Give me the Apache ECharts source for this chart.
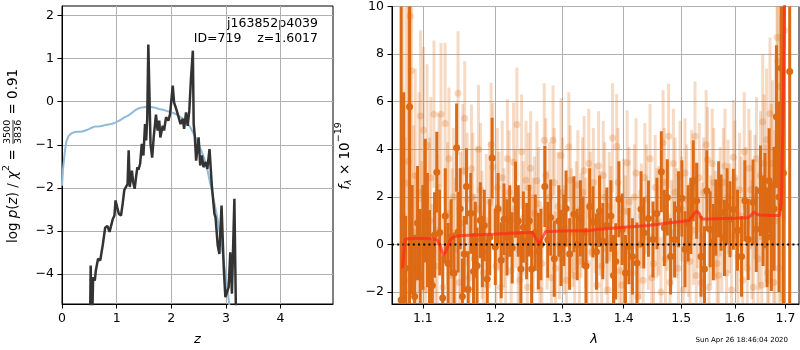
<!DOCTYPE html>
<html>
<head>
<meta charset="utf-8">
<script src="https://cdn.jsdelivr.net/npm/echarts@6/dist/echarts.min.js"></script>
<style>
  html, body { margin: 0; padding: 0; background: #ffffff; }
  #chart { width: 800px; height: 350px; }
</style>
</head>
<body>
<div id="chart"></div>
<script>
// ---- redshift probability panel ----
const pzGrid = [
  0.510, 0.525, 0.545, 0.570, 0.600, 0.620, 0.660, 0.700, 0.750, 0.790,
  0.830, 0.870, 0.930, 0.960, 0.980, 1.010, 1.040, 1.080, 1.110, 1.140,
  1.170, 1.200, 1.220, 1.240, 1.260, 1.280, 1.300, 1.330, 1.360, 1.380,
  1.400, 1.430, 1.460, 1.490, 1.520, 1.540, 1.560, 1.580, 1.600, 1.620,
  1.650, 1.680, 1.720, 1.750, 1.780, 1.800, 1.843, 1.868, 1.905, 1.947,
  1.978, 2.027, 2.051, 2.100, 2.130, 2.170, 2.210, 2.235, 2.270, 2.300,
  2.330, 2.360, 2.395, 2.410, 2.430, 2.455, 2.500, 2.530, 2.560, 2.590,
  2.630, 2.660, 2.700, 2.740, 2.790, 2.810, 2.850, 2.880, 2.920, 2.960,
  2.990, 3.020, 3.050, 3.080, 3.110, 3.155, 3.190
];
const pzLog = [
  -5.5, -3.80, -5.5, -4.07, -4.15, -3.91, -3.64, -3.68, -3.29, -2.92,
  -2.88, -3.02, -2.72, -2.64, -2.29, -2.45, -2.60, -2.64, -2.37, -2.05,
  -2.02, -1.91, -1.13, -1.98, -1.78, -1.60, -1.85, -2.02, -1.70, -1.52,
  -1.58, -1.44, -0.98, -1.25, -0.52, -0.90, -0.40, 1.32, 0.20, -0.98,
  -1.30, -0.80, -0.30, -0.67, -0.44, -0.83, -0.56, -0.67, -0.36, -0.44,
  -0.29, 0.37, -0.02, -0.21, -0.25, -0.52, -0.40, -0.63, -0.25, -0.56,
  -0.21, 0.52, 1.18, -0.52, -0.79, -1.37, -0.83, -1.48, -1.25, -1.52,
  -1.40, -1.56, -1.10, -1.91, -2.60, -2.68, -3.33, -3.53, -2.41, -3.84,
  -4.53, -4.53, -4.30, -3.49, -4.45, -2.25, -5.5
];
const priorZ = [
  0.00, 0.02, 0.05, 0.08, 0.12, 0.16,
  0.20, 0.25, 0.30, 0.35, 0.40, 0.45, 0.50, 0.55, 0.60, 0.65,
  0.70, 0.75, 0.80, 0.85, 0.90, 0.95, 1.00, 1.05, 1.10, 1.15,
  1.20, 1.25, 1.30, 1.35, 1.40, 1.45, 1.50, 1.55, 1.60, 1.65,
  1.70, 1.75, 1.80, 1.85, 1.90, 1.95, 2.00, 2.05, 2.10, 2.15,
  2.20, 2.25, 2.30, 2.35, 2.40, 2.45, 2.50, 2.55, 2.60, 2.65,
  2.70, 2.75, 2.80, 2.85, 2.90, 2.95, 3.00, 3.05, 3.10
];
const priorLog = [
  -1.95, -1.55, -1.18, -0.92, -0.80, -0.75,
  -0.72, -0.70, -0.70, -0.70, -0.68, -0.66, -0.63, -0.60, -0.58, -0.58,
  -0.57, -0.56, -0.54, -0.53, -0.52, -0.50, -0.47, -0.44, -0.40, -0.36,
  -0.33, -0.29, -0.24, -0.19, -0.16, -0.14, -0.13, -0.12, -0.12, -0.13,
  -0.14, -0.16, -0.18, -0.19, -0.21, -0.23, -0.25, -0.27, -0.30, -0.34,
  -0.38, -0.44, -0.51, -0.60, -0.72, -0.85, -0.99, -1.14, -1.31, -1.50,
  -1.82, -2.12, -2.42, -2.74, -3.15, -3.60, -4.10, -4.58, -5.10
];
const zTicks = [0, 1, 2, 3, 4];
const logpTicks = [-4, -3, -2, -1, 0, 1, 2];

// ---- spectrum panel: binned points ----
const specWave = [
  1.0717, 1.0750, 1.0775, 1.0826, 1.0860, 1.0892, 1.0930, 1.0965, 1.1000, 1.1032,
  1.1060, 1.1088, 1.1126, 1.1155, 1.1186, 1.1225, 1.1265, 1.1300, 1.1339, 1.1380,
  1.1420, 1.1455, 1.1475, 1.1505, 1.1535, 1.1560, 1.1591, 1.1615, 1.1651, 1.1689,
  1.1715, 1.1740, 1.1786, 1.1815, 1.1842, 1.1884, 1.1920, 1.1954, 1.2000, 1.2040,
  1.2085, 1.2126, 1.2170, 1.2210, 1.2246, 1.2295, 1.2336, 1.2375, 1.2411, 1.2460,
  1.2500, 1.2535, 1.2590, 1.2636, 1.2675, 1.2735, 1.2780, 1.2825, 1.2880, 1.2951,
  1.2985, 1.3030, 1.3064, 1.3120, 1.3188, 1.3240, 1.3290, 1.3332, 1.3380, 1.3440,
  1.3493, 1.3550, 1.3600, 1.3653, 1.3720, 1.3787, 1.3830, 1.3867, 1.3920, 1.3974,
  1.4030, 1.4088, 1.4148, 1.4224, 1.4295, 1.4342, 1.4423, 1.4501, 1.4570, 1.4647,
  1.4700, 1.4753, 1.4811, 1.4882, 1.4952, 1.5013, 1.5070, 1.5126, 1.5175, 1.5220,
  1.5281, 1.5362, 1.5426, 1.5469, 1.5531, 1.5590, 1.5638, 1.5690, 1.5737, 1.5801,
  1.5850, 1.5906, 1.5970, 1.6050, 1.6128, 1.6192, 1.6257, 1.6352, 1.6416, 1.6498,
  1.6550, 1.6588, 1.6630, 1.6671, 1.6716, 1.6770, 1.6818, 1.6870, 1.6914, 1.6960,
  1.7088
];
const specFlux = [
  -2.33, -3.2, -1.0, 5.79, 0.2, -2.19, 0.9, -1.31, 0.3, 1.84,
  0.6, -0.55, -1.72, 0.4, 3.04, 0.5, -2.25, 1.2, -0.8, 0.3,
  -1.2, 4.07, 0.52, 1.5, -2.19, -0.4, 2.44, -1.88, 1.31, -1.13,
  0.2, -0.89, 1.02, -0.3, 0.80, -1.45, 0.3, 3.63, -0.1, 1.5,
  -0.66, 1.06, 0.3, 0.99, -0.14, 1.88, 0.99, -1.03, 0.73, 0.14,
  1.0, -1.03, 0.5, -0.28, 0.0, 2.44, 0.2, 1.13, -0.6, 0.99,
  -0.14, 0.6, 1.51, -0.4, 1.27, 0.0, 1.1, 0.52, -0.9, 1.6,
  0.95, -0.3, 1.4, 0.14, 0.8, 1.2, -1.3, -0.71, 1.9, 0.64,
  -1.2, -0.07, -0.50, -0.78, 1.48, 0.49, 1.09, 0.21, 1.3, 3.06,
  0.7, 1.98, -0.50, 0.21, 1.48, 1.94, -0.2, 0.89, 1.2, 2.68,
  1.84, -0.50, -1.03, 2.26, 0.64, 0.1, 1.13, 1.9, 1.34, 0.28,
  1.6, 1.06, 1.48, 0.6, -0.50, 1.84, 0.21, 1.77, 0.64, 2.26,
  1.0, 1.84, 0.3, 2.68, 0.35, 1.5, 5.37, 2.0, 7.42, 3.0,
  7.27
];
const specErr = [
  14, 9.6, 2.2, 8.5, 2.3, 2.6, 2.4, 2.8, 2.2, 2.6,
  2.4, 2.0, 1.9, 1.8, 1.7, 1.8, 1.8, 2.0, 1.7, 1.6,
  1.7, 1.85, 1.7, 1.7, 1.6, 1.6, 1.6, 1.6, 1.7, 1.6,
  1.6, 1.6, 1.6, 1.5, 1.5, 1.7, 1.6, 1.7, 1.6, 1.5,
  1.6, 1.5, 1.6, 1.5, 1.5, 1.6, 1.5, 1.6, 1.5, 1.6,
  1.5, 1.6, 1.6, 1.6, 1.5, 1.7, 1.6, 1.6, 1.6, 1.5,
  1.6, 1.5, 1.6, 1.5, 1.6, 1.5, 1.6, 1.5, 1.6, 1.6,
  1.5, 1.6, 1.5, 1.6, 1.6, 1.5, 1.7, 1.6, 1.6, 1.5,
  1.6, 1.6, 1.6, 1.7, 1.6, 1.5, 1.6, 1.6, 1.5, 1.7,
  1.6, 1.6, 1.6, 1.6, 1.6, 1.6, 1.6, 1.6, 1.6, 1.7,
  1.6, 1.7, 1.8, 1.7, 1.6, 1.6, 1.6, 1.6, 1.6, 1.6,
  1.6, 1.6, 1.7, 1.7, 1.7, 1.7, 1.7, 1.8, 1.8, 1.9,
  1.9, 2.0, 2.1, 2.2, 2.3, 2.6, 3.0, 4.0, 6.0, 9.0,
  14
];

// ---- spectrum panel: unbinned points (two interleaved pixel sets) ----
const rawWave = [
  1.0740, 1.0785, 1.0835, 1.0850, 1.0880, 1.0915, 1.0950, 1.0985, 1.1008, 1.1056,
  1.1090, 1.1120, 1.1148, 1.1190, 1.1242, 1.1298, 1.1330, 1.1370, 1.1410, 1.1440,
  1.1475, 1.1510, 1.1567, 1.1600, 1.1661, 1.1700, 1.1740, 1.1790, 1.1830, 1.1870,
  1.1920, 1.1964, 1.2010, 1.2050, 1.2100, 1.2150, 1.2200, 1.2265, 1.2315, 1.2360,
  1.2410, 1.2450, 1.2490, 1.2540, 1.2580, 1.2615, 1.2660, 1.2726, 1.2770, 1.2810,
  1.2861, 1.2900, 1.2940, 1.2985, 1.3040, 1.3107, 1.3150, 1.3200, 1.3250, 1.3300,
  1.3350, 1.3400, 1.3450, 1.3500, 1.3560, 1.3610, 1.3660, 1.3710, 1.3760, 1.3814,
  1.3883, 1.3930, 1.4000, 1.4059, 1.4120, 1.4180, 1.4240, 1.4300, 1.4360, 1.4420,
  1.4480, 1.4540, 1.4600, 1.4678, 1.4720, 1.4776, 1.4830, 1.4890, 1.4950, 1.5010,
  1.5070, 1.5130, 1.5190, 1.5252, 1.5300, 1.5360, 1.5410, 1.5457, 1.5483, 1.5540,
  1.5600, 1.5660, 1.5720, 1.5780, 1.5840, 1.5900, 1.5970, 1.6030, 1.6090, 1.6150,
  1.6210, 1.6270, 1.6330, 1.6390, 1.6450, 1.6500, 1.6543, 1.6600, 1.6640, 1.6688,
  1.6740, 1.6790, 1.6830, 1.6845, 1.6895, 1.6930, 1.6980,
  1.0765, 1.0810, 1.0900, 1.0970, 1.1035, 1.1105, 1.1170, 1.1215, 1.1270, 1.1350,
  1.1395, 1.1490, 1.1540, 1.1630, 1.1680, 1.1760, 1.1810, 1.1890, 1.1940, 1.2030,
  1.2080, 1.2125, 1.2175, 1.2230, 1.2290, 1.2335, 1.2385, 1.2470, 1.2520, 1.2560,
  1.2640, 1.2690, 1.2750, 1.2835, 1.2880, 1.2960, 1.3010, 1.3070, 1.3130, 1.3175,
  1.3225, 1.3275, 1.3325, 1.3375, 1.3425, 1.3475, 1.3530, 1.3585, 1.3635, 1.3685,
  1.3735, 1.3785, 1.3850, 1.3905, 1.3965, 1.4030, 1.4090, 1.4150, 1.4210, 1.4270,
  1.4330, 1.4390, 1.4450, 1.4510, 1.4570, 1.4640, 1.4700, 1.4750, 1.4800, 1.4860,
  1.4920, 1.4980, 1.5040, 1.5100, 1.5160, 1.5220, 1.5275, 1.5330, 1.5385, 1.5510,
  1.5570, 1.5630, 1.5690, 1.5750, 1.5810, 1.5870, 1.5935, 1.6000, 1.6060, 1.6120,
  1.6180, 1.6240, 1.6300, 1.6360, 1.6420, 1.6475, 1.6525, 1.6570, 1.6620, 1.6665,
  1.6715, 1.6765, 1.6810, 1.6870, 1.6910
];
const rawFlux = [
  1.2, 2.58, 9.6, 7.3, 0.5, -1.0, 2.2, -0.3, 4.8, 4.17,
  1.0, -1.6, 5.47, 0.6, 5.47, 5.08, 1.3, -1.3, 2.0, -0.2,
  6.36, 0.9, 5.3, 1.9, 3.18, -0.6, 1.5, 2.3, -1.2, 1.0,
  1.8, 3.25, -0.9, 1.4, 2.8, -0.5, 2.2, 3.46, 5.04, -1.5,
  1.1, 2.7, 2.4, -0.4, 1.3, 2.68, -1.9, 4.38, 0.6, 2.0,
  4.38, -1.0, 1.6, 3.74, 0.2, 4.1, 1.0, -1.3, 2.5, 0.8,
  3.1, -0.8, 1.7, 2.6, -1.7, 0.9, 2.9, 0.1, 1.6, 4.48,
  4.12, -1.1, 1.4, 3.43, -0.3, 2.0, -2.2, 1.2, 2.8, 0.3,
  -1.4, 2.4, 1.0, 4.28, -0.6, 4.55, 0.5, 2.2, -1.0, 1.5,
  3.0, 0.0, 2.5, 4.55, 1.2, -1.6, 2.2, 4.19, 3.57, 0.6,
  2.6, -0.8, 1.8, 2.6, -1.2, 1.1, 3.67, 0.4, 2.3, -1.5,
  1.6, 3.2, 0.2, 2.0, -0.6, 2.9, 5.16, 1.3, -1.2, 5.5,
  3.4, 1.0, 8.7, 7.7, 6.64, 2.2, 9.0,
  -1.5, 3.5, 2.9, 5.4, -1.9, 2.8, -0.9, 2.4, -1.8, 3.6,
  0.2, -1.6, 3.1, -1.4, 2.0, 4.0, 0.4, -1.7, 4.2, 2.4,
  -1.8, 0.7, 3.6, -1.1, 1.5, -0.2, 3.9, -1.8, 3.2, 0.4,
  1.7, -0.8, 2.9, -1.4, 2.6, 0.0, 2.2, -1.5, 2.7, 0.5,
  1.2, -0.7, 2.2, 0.5, 3.4, -0.3, 1.1, 3.3, -0.9, 2.0,
  -1.9, 1.0, -0.4, 2.6, -1.7, 0.6, 1.8, -1.2, 3.0, 0.0,
  -1.5, 1.9, 3.6, -0.8, 0.9, -2.0, 2.6, 1.2, -1.6, 3.4,
  0.9, 2.9, -1.9, 1.9, -0.7, 0.6, -1.3, 2.8, 0.3, -1.8,
  3.4, 0.8, -1.3, 0.4, 3.3, 2.0, -1.9, 2.8, -0.5, 1.2,
  3.9, -1.0, 2.3, -1.8, 3.6, 0.8, -1.7, 3.4, 4.4, -1.5,
  2.5, -1.6, 4.0, -1.0, 3.6
];
const rawErr = [
  12, 9, 8, 8, 4.5, 4.0, 4.2, 3.8, 3.5, 3.4,
  3.5, 3.3, 3.1, 3.2, 3.0, 3.4, 3.0, 3.1, 2.9, 3.0,
  2.6, 3.0, 2.4, 2.8, 2.7, 2.7, 2.6, 2.8, 2.6, 2.8,
  2.5, 2.7, 2.6, 2.5, 2.4, 2.5, 2.6, 2.5, 2.4, 2.5,
  2.4, 2.5, 2.3, 2.5, 2.4, 2.5, 2.4, 2.4, 2.5, 2.3,
  2.3, 2.4, 2.3, 2.4, 2.3, 2.3, 2.2, 2.3, 2.3, 2.2,
  2.3, 2.3, 2.2, 2.3, 2.3, 2.2, 2.3, 2.2, 2.3, 2.3,
  2.2, 2.3, 2.2, 2.2, 2.3, 2.2, 2.3, 2.2, 2.3, 2.2,
  2.3, 2.2, 2.3, 2.2, 2.3, 2.2, 2.2, 2.3, 2.3, 2.2,
  2.3, 2.2, 2.3, 2.3, 2.2, 2.3, 2.3, 2.3, 2.2, 2.3,
  2.3, 2.3, 2.3, 2.3, 2.4, 2.3, 2.4, 2.4, 2.4, 2.4,
  2.5, 2.5, 2.5, 2.6, 2.6, 2.7, 2.8, 2.9, 3.0, 3.2,
  3.5, 3.8, 4.5, 4.5, 5, 6, 8,
  6, 7, 4.5, 3.6, 3.4, 3.4, 3.2, 3.1, 3.1, 3.0,
  3.0, 2.9, 2.8, 2.8, 2.7, 2.7, 2.7, 2.6, 2.6, 2.5,
  2.5, 2.5, 2.5, 2.5, 2.5, 2.4, 2.4, 2.4, 2.4, 2.4,
  2.4, 2.4, 2.4, 2.3, 2.3, 2.3, 2.3, 2.3, 2.3, 2.3,
  2.3, 2.3, 2.3, 2.3, 2.3, 2.3, 2.3, 2.3, 2.3, 2.3,
  2.3, 2.3, 2.3, 2.3, 2.3, 2.3, 2.3, 2.3, 2.3, 2.3,
  2.3, 2.3, 2.3, 2.3, 2.3, 2.3, 2.3, 2.3, 2.3, 2.3,
  2.3, 2.3, 2.3, 2.3, 2.3, 2.3, 2.3, 2.3, 2.3, 2.3,
  2.3, 2.3, 2.4, 2.4, 2.4, 2.4, 2.4, 2.4, 2.4, 2.5,
  2.5, 2.5, 2.5, 2.6, 2.6, 2.7, 2.8, 2.9, 3.0, 3.1,
  3.4, 3.6, 4.0, 4.8, 6
];

// ---- spectrum panel: best-fit template ----
const modelWave = [
  1.0735, 1.0755, 1.0770, 1.0800, 1.0900, 1.1000, 1.1100, 1.1190, 1.1230, 1.1270,
  1.1300, 1.1340, 1.1380, 1.1430, 1.1500, 1.1700, 1.2000, 1.2300, 1.2500, 1.2550,
  1.2600, 1.2650, 1.2700, 1.2750, 1.2900, 1.3000, 1.3200, 1.3400, 1.3600, 1.3800,
  1.4000, 1.4200, 1.4400, 1.4600, 1.4800, 1.5000, 1.5150, 1.5220, 1.5280, 1.5330,
  1.5380, 1.5500, 1.5800, 1.6000, 1.6250, 1.6310, 1.6370, 1.6420, 1.6480, 1.6700,
  1.6880, 1.6900, 1.6920, 1.6950, 1.6990
];
const modelFlux = [
  -1.0, -0.2, 0.21, 0.24, 0.25, 0.25, 0.24, 0.20, -0.05, -0.42,
  -0.35, -0.05, 0.25, 0.33, 0.37, 0.40, 0.44, 0.48, 0.50, 0.50,
  0.25, 0.02, 0.30, 0.55, 0.56, 0.57, 0.58, 0.58, 0.64, 0.68,
  0.72, 0.76, 0.80, 0.85, 0.91, 0.97, 1.02, 1.25, 1.41, 1.30,
  1.07, 1.07, 1.09, 1.10, 1.12, 1.22, 1.37, 1.28, 1.24, 1.22,
  1.22, 1.50, 2.00, 5.00, 11.0
];
const waveTicks = [1.1, 1.2, 1.3, 1.4, 1.5, 1.6, 1.7];
const fluxTicks = [-2, 0, 2, 4, 6, 8, 10];
const waveRange = [1.06, 1.728];

// ---- styling ----
const FONT = 'DejaVu Sans';
const TICK_SIZE = 12.5;
const BINNED = '#dd6a14';
const minusFmt = v => (v < 0 ? '\u2212' + Math.abs(v) : String(v));

function axisStyle(ticks, formatter) {
  return {
    axisLine: { show: true, onZero: false, lineStyle: { color: '#000', width: 1 } },
    axisTick: { show: true, customValues: ticks, length: 4.5, lineStyle: { color: '#000', width: 1 } },
    axisLabel: { customValues: ticks, formatter: formatter, color: '#000', fontSize: TICK_SIZE, fontFamily: FONT, margin: 8 },
    splitLine: { show: true, lineStyle: { color: '#b0b0b0', width: 1 } }
  };
}

function errorBars(wave, flux, err, color, opacity, width) {
  return {
    type: 'custom',
    xAxisIndex: 1, yAxisIndex: 1,
    clip: true, silent: true,
    data: wave.map((w, i) => [w, flux[i] - err[i], flux[i] + err[i]]),
    encode: { x: 0, y: [1, 2] },
    renderItem: (params, api) => {
      const a = api.coord([api.value(0), api.value(1)]);
      const b = api.coord([api.value(0), api.value(2)]);
      return {
        type: 'line',
        shape: { x1: a[0], y1: a[1], x2: b[0], y2: b[1] },
        style: { stroke: color, lineWidth: width, opacity: opacity }
      };
    }
  };
}

// text measurement for the composed axis titles
const measureCtx = document.createElement('canvas').getContext('2d');
function textWidth(str, size, italic) {
  measureCtx.font = (italic ? 'italic ' : '') + size + 'px "' + FONT + '"';
  return measureCtx.measureText(str).width;
}
function textEl(str, x, y, size, italic, align) {
  return {
    type: 'text', x: x, y: y,
    style: {
      text: str, fill: '#000', fontSize: size, fontFamily: FONT,
      fontStyle: italic ? 'italic' : 'normal',
      textAlign: align || 'left', textVerticalAlign: 'middle'
    }
  };
}
// vertical title built from pieces (sub/superscripts and a stacked fraction)
function verticalTitle(pieces, cx, cy) {
  let x = 0;
  const kids = [];
  pieces.forEach(p => {
    if (p.frac) {
      const w = Math.max(textWidth(p.frac[0], p.size), textWidth(p.frac[1], p.size)) + 2;
      kids.push(textEl(p.frac[0], x + w / 2, -5.5, p.size, false, 'center'));
      kids.push(textEl(p.frac[1], x + w / 2, 6, p.size, false, 'center'));
      kids.push({ type: 'line', shape: { x1: x + 1, y1: 0, x2: x + w - 1, y2: 0 }, style: { stroke: '#000', lineWidth: 0.8 } });
      x += w;
    } else {
      kids.push(textEl(p.t, x, p.dy || 0, p.size, p.italic));
      x += textWidth(p.t, p.size, p.italic);
    }
  });
  kids.forEach(k => {
    if (k.type === 'text') k.x -= x / 2;
    else { k.shape.x1 -= x / 2; k.shape.x2 -= x / 2; }
  });
  return { type: 'group', x: cx, y: cy, rotation: Math.PI / 2, children: kids };
}

const pzTitle = verticalTitle([
  { t: 'log ', size: 13.5 },
  { t: 'p', size: 13.5, italic: true },
  { t: '(', size: 13.5 },
  { t: 'z', size: 13.5, italic: true },
  { t: ') / ', size: 13.5 },
  { t: '\u03c7', size: 13.5, italic: true },
  { t: '2', size: 9.5, dy: -6 },
  { t: ' = ', size: 13.5 },
  { frac: ['3500', '3836'], size: 9.5 },
  { t: ' = 0.91', size: 13.5 }
], 13, 156);

const fluxTitle = verticalTitle([
  { t: 'f', size: 13.5, italic: true },
  { t: '\u03bb', size: 9.5, italic: true, dy: 4 },
  { t: ' \u00d7 10', size: 13.5 },
  { t: '\u221219', size: 9.5, dy: -6 }
], 345, 156);

const chart = echarts.init(document.getElementById('chart'), null, { renderer: 'canvas' });

chart.setOption({
  animation: false,
  backgroundColor: '#ffffff',
  textStyle: { fontFamily: FONT },
  grid: [
    { left: 62, top: 6, width: 271, height: 298, show: true, borderColor: '#000', borderWidth: 1, backgroundColor: 'transparent' },
    { left: 392, top: 6, width: 407, height: 298, show: true, borderColor: '#000', borderWidth: 1, backgroundColor: 'transparent' }
  ],
  xAxis: [
    Object.assign({ gridIndex: 0, type: 'value', min: 0, max: 4.96 }, axisStyle(zTicks, minusFmt)),
    Object.assign({ gridIndex: 1, type: 'log', logBase: 10, min: waveRange[0], max: waveRange[1] },
      axisStyle(waveTicks, v => Number(v).toFixed(1)))
  ],
  yAxis: [
    Object.assign({ gridIndex: 0, type: 'value', min: -4.69, max: 2.215 }, axisStyle(logpTicks, minusFmt)),
    Object.assign({ gridIndex: 1, type: 'value', min: -2.5, max: 10 }, axisStyle(fluxTicks, minusFmt))
  ],
  series: [
    {
      type: 'line', xAxisIndex: 0, yAxisIndex: 0, showSymbol: false, silent: true, clip: true,
      data: priorZ.map((z, i) => [z, priorLog[i]]),
      lineStyle: { color: '#8fbbd9', width: 2 }
    },
    {
      type: 'line', xAxisIndex: 0, yAxisIndex: 0, showSymbol: false, silent: true, clip: true,
      data: pzGrid.map((z, i) => [z, pzLog[i]]),
      lineStyle: { color: '#333333', width: 2.5 }
    },
    errorBars(rawWave, rawFlux, rawErr, BINNED, 0.25, 3),
    {
      type: 'scatter', xAxisIndex: 1, yAxisIndex: 1, silent: true, clip: true,
      symbolSize: 7,
      data: rawWave.map((w, i) => [w, rawFlux[i]]),
      itemStyle: { color: BINNED, opacity: 0.25 }
    },
    errorBars(specWave, specFlux, specErr, BINNED, 1, 3),
    {
      type: 'scatter', xAxisIndex: 1, yAxisIndex: 1, silent: true, clip: true,
      symbolSize: 7,
      data: specWave.map((w, i) => [w, specFlux[i]]),
      itemStyle: { color: BINNED, opacity: 1 }
    },
    {
      type: 'line', xAxisIndex: 1, yAxisIndex: 1, showSymbol: false, silent: true, clip: true,
      data: [[waveRange[0], 0], [waveRange[1], 0]],
      lineStyle: { color: '#000', width: 2, type: [2, 3.2] }
    },
    {
      type: 'line', xAxisIndex: 1, yAxisIndex: 1, showSymbol: false, silent: true, clip: true,
      data: modelWave.map((w, i) => [w, modelFlux[i]]),
      lineStyle: { color: '#ff2a1a', width: 3, opacity: 0.72 }
    }
  ],
  graphic: [
    textEl('j163852p4039', 318, 24, 12.5, false, 'right'),
    textEl('ID=719    z=1.6017', 318, 39, 12.5, false, 'right'),
    textEl('z', 197.5, 340, 13, true, 'center'),
    textEl('\u03bb', 594, 340, 13, true, 'center'),
    pzTitle,
    fluxTitle,
    {
      type: 'text', x: 788, y: 340,
      style: { text: 'Sun Apr 26 18:46:04 2020', fill: '#000', fontSize: 7, fontFamily: FONT, textAlign: 'right', textVerticalAlign: 'middle' }
    }
  ]
});
</script>
</body>
</html>
